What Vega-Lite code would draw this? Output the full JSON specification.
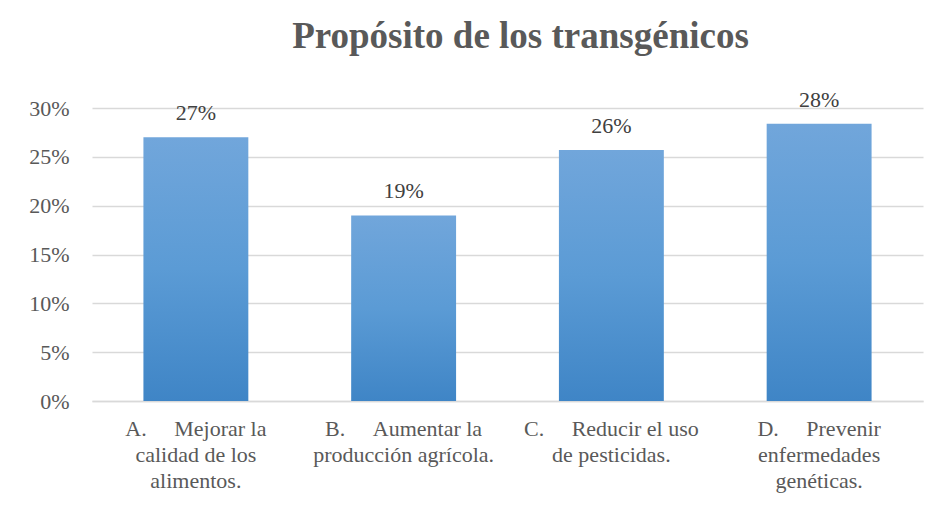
{
  "$schema": "https://vega.github.io/schema/vega-lite/v6.json",
  "width": 831,
  "height": 293,
  "autosize": {"type": "none"},
  "padding": {"left": 92, "top": 108, "right": 16, "bottom": 104},
  "background": "white",
  "title": {
    "text": "Propósito de los transgénicos",
    "font": "Liberation Serif, Times New Roman, serif",
    "fontSize": 37,
    "fontWeight": "bold",
    "color": "#595959",
    "anchor": "middle",
    "dx": 13,
    "offset": 33
  },
  "data": {
    "values": [
      {"opcion": "A.\u00a0\u00a0\u00a0\u00a0\u00a0Mejorar la|calidad de los|alimentos.", "pct": 0.270},
      {"opcion": "B.\u00a0\u00a0\u00a0\u00a0\u00a0Aumentar la|producción agrícola.", "pct": 0.190},
      {"opcion": "C.\u00a0\u00a0\u00a0\u00a0\u00a0Reducir el uso|de pesticidas.", "pct": 0.257},
      {"opcion": "D.\u00a0\u00a0\u00a0\u00a0\u00a0Prevenir|enfermedades|genéticas.", "pct": 0.284}
    ]
  },
  "encoding": {
    "x": {
      "field": "opcion",
      "type": "nominal",
      "sort": null,
      "scale": {"paddingInner": 0.495, "paddingOuter": 0.2475},
      "axis": {
        "title": null,
        "labelAngle": 0,
        "labelExpr": "split(datum.label, '|')",
        "labelFont": "Liberation Serif, Times New Roman, serif",
        "labelFontSize": 22,
        "labelColor": "#595959",
        "labelLineHeight": 26,
        "labelPadding": 17,
        "labelLimit": 300,
        "labelBaseline": "top",
        "ticks": false,
        "domainColor": "#d9d9d9",
        "domainWidth": 1.5,
        "grid": false
      }
    },
    "y": {
      "field": "pct",
      "type": "quantitative",
      "scale": {"domain": [0, 0.3], "nice": false},
      "axis": {
        "title": null,
        "format": ".0%",
        "values": [0, 0.05, 0.1, 0.15, 0.2, 0.25, 0.3],
        "labelFont": "Liberation Serif, Times New Roman, serif",
        "labelFontSize": 22,
        "labelColor": "#595959",
        "labelPadding": 23,
        "ticks": false,
        "domain": false,
        "gridColor": "#d9d9d9",
        "gridWidth": 1.5
      }
    }
  },
  "layer": [
    {
      "mark": {
        "type": "bar",
        "color": {
          "gradient": "linear",
          "x1": 0, "y1": 0, "x2": 0, "y2": 1,
          "stops": [
            {"offset": 0, "color": "#71a6db"},
            {"offset": 0.5, "color": "#5b9bd5"},
            {"offset": 1, "color": "#3f85c6"}
          ]
        }
      }
    },
    {
      "mark": {
        "type": "text",
        "font": "Liberation Serif, Times New Roman, serif",
        "fontSize": 22,
        "color": "#404040",
        "baseline": "alphabetic",
        "dy": -17
      },
      "encoding": {
        "text": {"field": "pct", "type": "quantitative", "format": ".0%"}
      }
    }
  ],
  "config": {
    "view": {"stroke": null}
  }
}
